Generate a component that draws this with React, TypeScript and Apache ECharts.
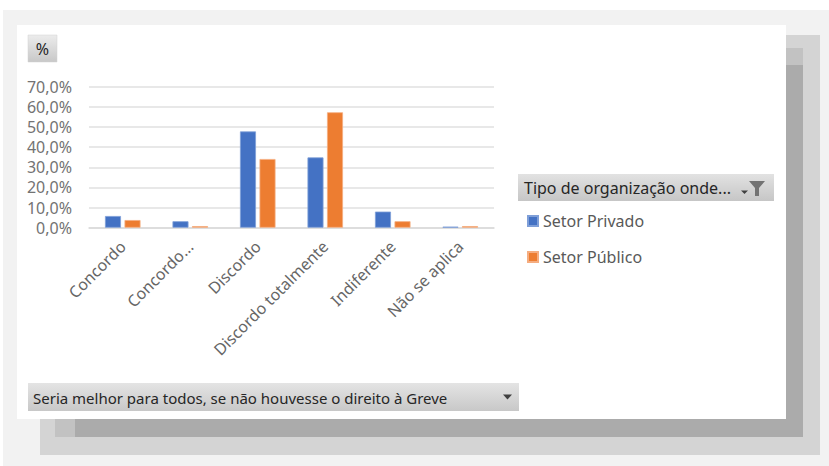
import React, { useEffect, useRef } from 'react';
import * as echarts from 'echarts';

const categories = ['Concordo', 'Concordo...', 'Discordo', 'Discordo totalmente', 'Indiferente', 'Não se aplica'];
const setorPrivado = [5.8, 3.2, 47.8, 34.9, 8.0, 0.5];
const setorPublico = [3.8, 0.8, 34.1, 57.3, 3.2, 0.8];
const seriesNames = ['Setor Privado', 'Setor Público'];
const yMin = 0;
const yMax = 70;
const yStep = 10;
const legendTitle = 'Tipo de organização onde...';
const fieldButton = '%';
const axisFieldTitle = 'Seria melhor para todos, se não houvesse o direito à Greve';

const FONT = '"Noto Sans", sans-serif';

const grad = (a: string, b: string) => ({
  type: 'linear', x: 0, y: 0, x2: 0, y2: 1,
  colorStops: [{ offset: 0, color: a }, { offset: 1, color: b }],
});

export default function App() {
  const ref = useRef<HTMLDivElement>(null);
  useEffect(() => {
    document.body.style.margin = '0';
    const chart = echarts.init(ref.current!, null, { renderer: 'svg' });
    const bg = (x: number, y: number, w: number, h: number, fill: string) => ({
      type: 'rect', z: -10, silent: true, shape: { x, y, width: w, height: h }, style: { fill },
    });
    chart.setOption({
      animation: false,
      backgroundColor: '#ffffff',
      graphic: [
        bg(3, 10, 826, 456, '#f2f2f2'),
        bg(40, 35, 780, 420, '#d4d4d4'),
        bg(55, 48, 748, 389, '#c2c2c2'),
        bg(75, 65, 728, 372, '#ababab'),
        bg(17, 25, 769, 394, '#ffffff'),
        {
          type: 'rect', z: 5, shape: { x: 28, y: 35, width: 29, height: 27 },
          style: { fill: grad('#ececec', '#c8c8c8'), stroke: '#d0d0d0', lineWidth: 0.5 },
        },
        {
          type: 'text', z: 6, x: 42.5, y: 49,
          style: { text: fieldButton, fill: '#262626', font: `16px ${FONT}`, align: 'center', verticalAlign: 'middle' },
        },
        {
          type: 'rect', z: 5, shape: { x: 518, y: 174, width: 256, height: 27 },
          style: { fill: grad('#e2e2e2', '#c6c6c6') },
        },
        {
          type: 'text', z: 6, x: 524, y: 188,
          style: { text: legendTitle, fill: '#262626', font: `16px ${FONT}`, verticalAlign: 'middle' },
        },
        {
          type: 'polygon', z: 6,
          shape: { points: [[741, 190.5], [748, 190.5], [744.5, 194]] },
          style: { fill: '#404040' },
        },
        {
          type: 'polygon', z: 6,
          shape: { points: [[749, 181], [765, 181], [759, 188], [759, 196], [755, 196], [755, 188]] },
          style: { fill: '#737373' },
        },
        {
          type: 'rect', z: 5, shape: { x: 28, y: 383, width: 491, height: 28 },
          style: { fill: grad('#e4e4e4', '#c8c8c8') },
        },
        {
          type: 'text', z: 6, x: 33, y: 397.5,
          style: { text: axisFieldTitle, fill: '#262626', font: `15px ${FONT}`, verticalAlign: 'middle' },
        },
        {
          type: 'polygon', z: 6,
          shape: { points: [[503, 394.5], [512, 394.5], [507.5, 399.5]] },
          style: { fill: '#404040' },
        },
      ],
      grid: { left: 89, right: 335, top: 86.7, bottom: 238.3, containLabel: false },
      legend: {
        orient: 'vertical',
        left: 527,
        top: 212,
        padding: 0,
        itemWidth: 10,
        itemHeight: 10,
        itemGap: 18,
        icon: 'rect',
        data: seriesNames,
        textStyle: { fontFamily: FONT, fontSize: 16, lineHeight: 18, color: '#595959' },
      },
      xAxis: {
        type: 'category',
        data: categories,
        axisLine: { show: true, lineStyle: { color: '#d9d9d9', width: 1.5 } },
        axisTick: { show: false },
        axisLabel: {
          interval: 0,
          rotate: 45,
          margin: 16,
          fontFamily: FONT,
          fontSize: 16,
          color: '#666666',
        },
      },
      yAxis: {
        type: 'value',
        min: yMin,
        max: yMax,
        interval: yStep,
        axisLine: { show: false },
        axisTick: { show: false },
        splitLine: { lineStyle: { color: '#e0e0e0', width: 1.5 } },
        axisLabel: {
          margin: 17,
          fontFamily: FONT,
          fontSize: 16,
          color: '#737373',
          formatter: (v: number) => v.toFixed(1).replace('.', ',') + '%',
        },
      },
      series: [
        {
          name: seriesNames[0],
          type: 'bar',
          data: setorPrivado,
          barWidth: 16,
          barGap: '22%',
          itemStyle: { color: '#4472C4', borderColor: '#7f9fd8', borderWidth: 0.8 },
        },
        {
          name: seriesNames[1],
          type: 'bar',
          data: setorPublico,
          barWidth: 16,
          barGap: '22%',
          itemStyle: { color: '#ED7D31', borderColor: '#f5ad80', borderWidth: 0.8 },
        },
      ],
    });
    return () => chart.dispose();
  }, []);
  return <div ref={ref} style={{ position: 'absolute', left: 0, top: 0, width: 829, height: 466 }} />;
}
